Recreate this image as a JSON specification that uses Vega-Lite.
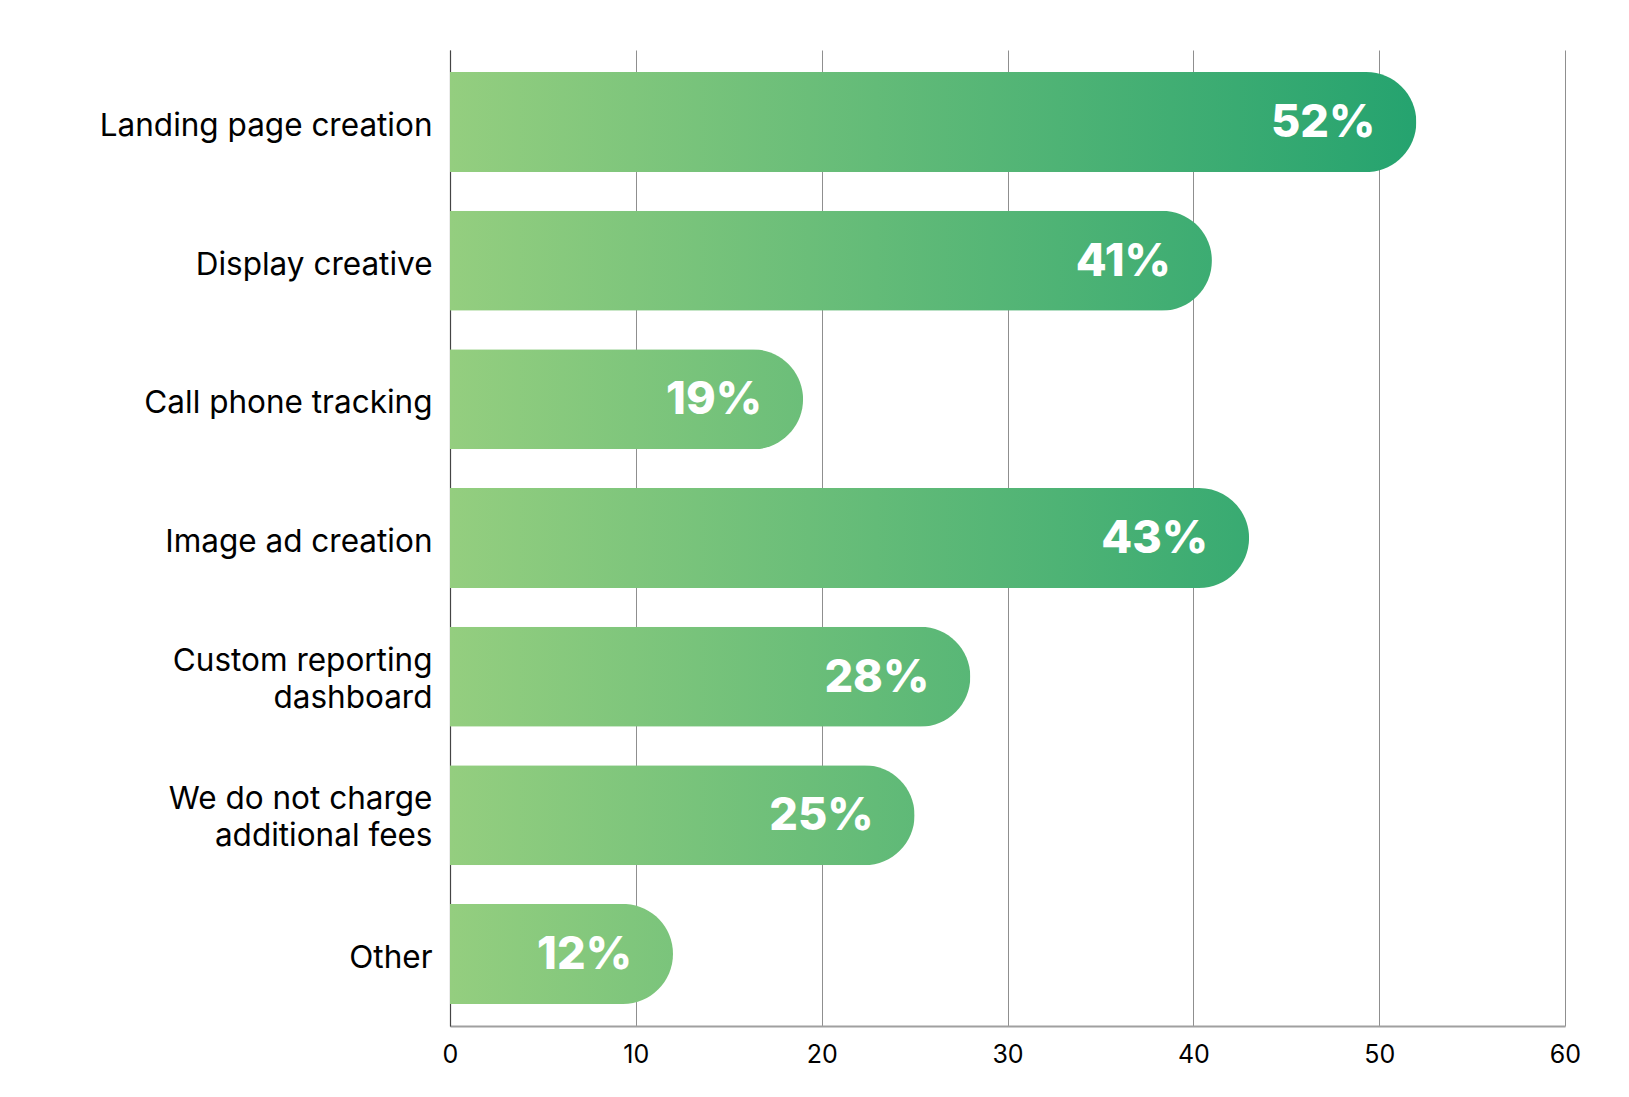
{
  "$schema": "https://vega.github.io/schema/vega-lite/v6.json",
  "autosize": {"type": "none"},
  "padding": {"left": 450, "top": 50, "right": 64, "bottom": 71},
  "width": 1115,
  "height": 976,
  "background": "white",
  "config": {"view": {"stroke": null}},
  "data": {
    "values": [
      {"task": "Landing page creation", "pct": 52, "label": "52%"},
      {"task": "Display creative", "pct": 41, "label": "41%"},
      {"task": "Call phone tracking", "pct": 19, "label": "19%"},
      {"task": "Image ad creation", "pct": 43, "label": "43%"},
      {"task": "Custom reporting\ndashboard", "pct": 28, "label": "28%"},
      {"task": "We do not charge\nadditional fees", "pct": 25, "label": "25%"},
      {"task": "Other", "pct": 12, "label": "12%"}
    ]
  },
  "encoding": {
    "y": {
      "field": "task",
      "type": "nominal",
      "sort": null,
      "scale": {"paddingInner": 0.28, "paddingOuter": 0.16},
      "axis": {
        "title": null,
        "ticks": false,
        "labelPadding": 18,
        "labelFont": "Inter",
        "labelFontSize": 31.5,
        "labelColor": "#000000",
        "labelLineHeight": 37,
        "labelLimit": 500,
        "labelOffset": {"condition": {"test": "indexof(datum.value, '\\n') >= 0", "value": -15}, "value": 5},
        "labelExpr": "split(datum.label, '\\n')",
        "domainColor": "#444444",
        "domainWidth": 1.2
      }
    },
    "x": {
      "field": "pct",
      "type": "quantitative",
      "scale": {"domain": [0, 60], "nice": false},
      "axis": {
        "title": null,
        "values": [0, 10, 20, 30, 40, 50, 60],
        "ticks": false,
        "labelFlush": false,
        "labelPadding": 16,
        "labelFont": "Inter",
        "labelFontSize": 25,
        "labelColor": "#000000",
        "grid": true,
        "gridColor": "#8f8f8f",
        "gridWidth": 1,
        "domainColor": "#a0a0a0",
        "domainWidth": 2
      }
    }
  },
  "layer": [
    {
      "mark": {"type": "bar", "cornerRadiusEnd": 50, "height": 100},
      "encoding": {
        "color": {
          "condition": [
            {"test": "datum.task === 'Display creative'", "value": {"gradient": "linear", "x1": 0, "x2": 1.268, "y1": 0, "y2": 0, "stops": [{"offset": 0, "color": "#94ce7f"}, {"offset": 1, "color": "#25a36f"}]}},
            {"test": "datum.task === 'Call phone tracking'", "value": {"gradient": "linear", "x1": 0, "x2": 2.737, "y1": 0, "y2": 0, "stops": [{"offset": 0, "color": "#94ce7f"}, {"offset": 1, "color": "#25a36f"}]}},
            {"test": "datum.task === 'Image ad creation'", "value": {"gradient": "linear", "x1": 0, "x2": 1.209, "y1": 0, "y2": 0, "stops": [{"offset": 0, "color": "#94ce7f"}, {"offset": 1, "color": "#25a36f"}]}},
            {"test": "indexof(datum.task, 'Custom') === 0", "value": {"gradient": "linear", "x1": 0, "x2": 1.857, "y1": 0, "y2": 0, "stops": [{"offset": 0, "color": "#94ce7f"}, {"offset": 1, "color": "#25a36f"}]}},
            {"test": "indexof(datum.task, 'We do') === 0", "value": {"gradient": "linear", "x1": 0, "x2": 2.08, "y1": 0, "y2": 0, "stops": [{"offset": 0, "color": "#94ce7f"}, {"offset": 1, "color": "#25a36f"}]}},
            {"test": "datum.task === 'Other'", "value": {"gradient": "linear", "x1": 0, "x2": 4.333, "y1": 0, "y2": 0, "stops": [{"offset": 0, "color": "#94ce7f"}, {"offset": 1, "color": "#25a36f"}]}}
          ],
          "value": {"gradient": "linear", "x1": 0, "x2": 1, "y1": 0, "y2": 0, "stops": [{"offset": 0, "color": "#94ce7f"}, {"offset": 1, "color": "#25a36f"}]}
        }
      }
    },
    {
      "mark": {"type": "text", "align": "right", "baseline": "middle", "dx": -41, "dy": 1, "font": "Inter", "fontSize": 45, "fontWeight": 800, "color": "white"},
      "encoding": {
        "text": {"field": "label", "type": "nominal"}
      }
    }
  ]
}
